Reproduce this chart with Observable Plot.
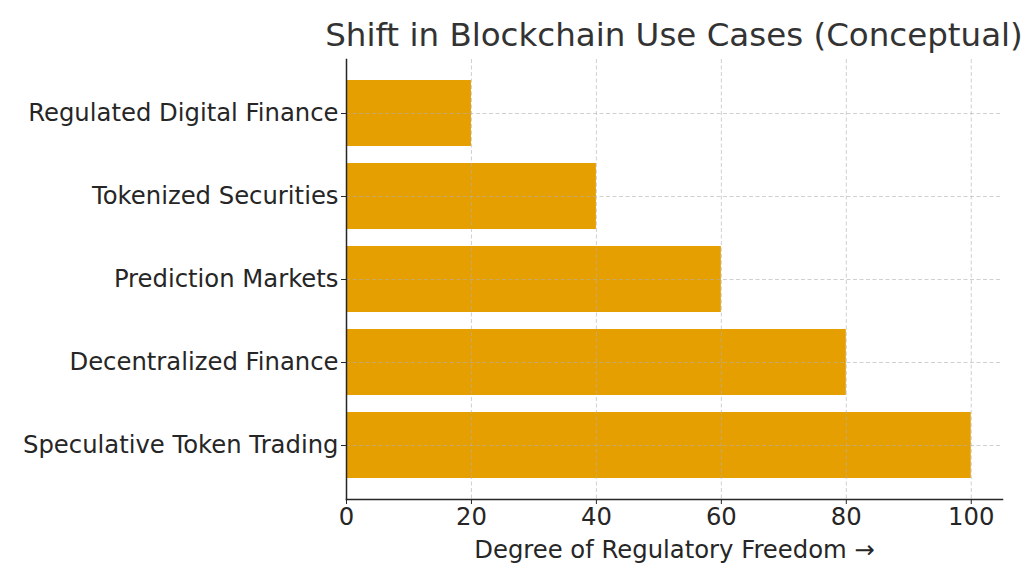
<!DOCTYPE html>
<html><head><meta charset="utf-8">
<script src="https://cdn.jsdelivr.net/npm/d3@7"></script>
<script src="https://cdn.jsdelivr.net/npm/@observablehq/plot@0.6"></script>
<style>
body{margin:0;background:#fff;font-family:"DejaVu Sans",sans-serif;}
#title{height:56px;width:1024px;position:relative;}
#title span{position:absolute;left:674px;transform:translateX(-50%);top:17px;font-size:32.5px;line-height:36px;color:#333;white-space:nowrap;}
</style></head><body>
<div id="title"><span>Shift in Blockchain Use Cases (Conceptual)</span></div>
<div id="chart"></div>
<script>
const categories = ["Regulated Digital Finance", "Tokenized Securities", "Prediction Markets", "Decentralized Finance", "Speculative Token Trading"];
const values = [20, 40, 60, 80, 100];
const xTicks = [0, 20, 40, 60, 80, 100];
const xLabel = "Degree of Regulatory Freedom →";
const data = categories.map((c, i) => ({category: c, value: values[i]}));

const plot = Plot.plot({
  width: 1024, height: 529,
  marginTop: 3, marginLeft: 346, marginRight: 22, marginBottom: 86,
  style: {fontFamily: "DejaVu Sans", fontSize: "24.3px", color: "#262626", background: "#fff"},
  x: {domain: [0, 105]},
  y: {type: "band", domain: categories, paddingInner: 0.2, paddingOuter: 0.24},
  marks: [
    Plot.barX(data, {x: "value", y: "category", fill: "#E69F00"}),
    Plot.gridX(xTicks, {stroke: "#b0b0b0", strokeOpacity: 0.6, strokeDasharray: "4,2.5", strokeWidth: 1}),
    Plot.gridY(categories, {stroke: "#b0b0b0", strokeOpacity: 0.6, strokeDasharray: "4,2.5", strokeWidth: 1}),
    Plot.axisX({ticks: xTicks, tickSize: 5, tickPadding: 3, stroke: "#262626", label: xLabel, labelAnchor: "center", labelArrow: "none", labelOffset: 58}),
    Plot.axisY({tickSize: 5, tickPadding: 3, stroke: "#262626", label: null}),
    Plot.frame({anchor: "left", stroke: "#262626", strokeWidth: 1.5}),
    Plot.frame({anchor: "bottom", stroke: "#262626", strokeWidth: 1.5})
  ]
});
document.getElementById("chart").appendChild(plot);
</script>
</body></html>
